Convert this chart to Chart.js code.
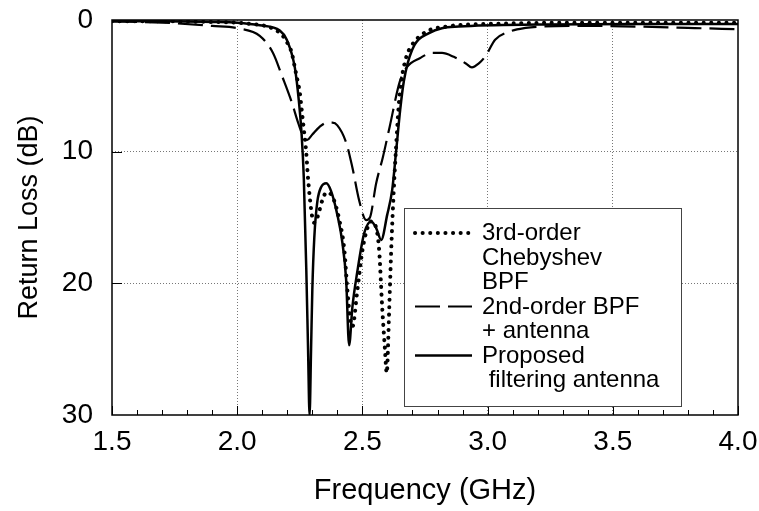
<!DOCTYPE html>
<html>
<head>
<meta charset="utf-8">
<script src="https://cdn.jsdelivr.net/npm/chart.js@4.4.0/dist/chart.umd.min.js"></script>
<style>
html, body { margin: 0; padding: 0; background: #fff; }
</style>
</head>
<body>
<canvas id="chart0" width="759" height="511"></canvas>
<script>
// 3rd-order Chebyshev BPF (dotted)
var freqBpf3 = [1.5, 1.7, 1.9, 2.0, 2.05, 2.1, 2.142, 2.182, 2.202, 2.218, 2.23, 2.242, 2.25, 2.258, 2.266, 2.275, 2.282, 2.29, 2.30, 2.308, 2.32, 2.34, 2.356, 2.38, 2.408, 2.428, 2.44, 2.452, 2.46, 2.48, 2.5, 2.52, 2.535, 2.555, 2.567, 2.579, 2.59, 2.597, 2.607, 2.615, 2.625, 2.635, 2.645, 2.655, 2.674, 2.698, 2.754, 2.834, 3.0, 3.5, 4.0];
var rlBpf3   = [0.1, 0.1, 0.15, 0.2, 0.3, 0.4, 0.65, 1.2, 1.8, 2.5, 3.6, 4.7, 5.5, 6.9, 8.3, 9.9, 11.8, 13.5, 15.0, 15.4, 15.0, 13.7, 13.1, 13.4, 15.2, 17.5, 20.5, 22.8, 23.3, 20.5, 17.5, 15.8, 15.3, 15.8, 17.5, 21.8, 25.0, 26.8, 22.0, 17.5, 13.0, 9.5, 6.5, 4.7, 2.9, 1.9, 0.9, 0.5, 0.3, 0.2, 0.2];

// 2nd-order BPF + antenna (dashed)
var freqBpf2 = [1.5, 1.7, 1.9, 2.01, 2.09, 2.143, 2.18, 2.217, 2.245, 2.265, 2.28, 2.3, 2.33, 2.358, 2.38, 2.4, 2.435, 2.46, 2.487, 2.515, 2.53, 2.555, 2.582, 2.609, 2.649, 2.677, 2.729, 2.78, 2.818, 2.865, 2.913, 2.937, 2.965, 2.993, 3.03, 3.084, 3.152, 3.216, 3.4, 3.6, 3.8, 4.0];
var rlBpf2   = [0.1, 0.2, 0.45, 0.65, 1.2, 2.5, 4.3, 6.2, 7.9, 8.9, 9.1, 8.7, 8.1, 7.8, 7.8, 8.0, 9.3, 11.2, 13.7, 15.2, 15.0, 12.4, 10.4, 8.1, 4.7, 3.6, 2.9, 2.5, 2.5, 2.8, 3.3, 3.6, 3.3, 2.7, 1.5, 0.9, 0.6, 0.5, 0.45, 0.5, 0.6, 0.7];

// Proposed filtering antenna (solid)
var freqAnt = [1.5, 1.7, 1.9, 2.0, 2.09, 2.17, 2.198, 2.23, 2.246, 2.257, 2.266, 2.276, 2.283, 2.289, 2.295, 2.30, 2.308, 2.32, 2.335, 2.356, 2.375, 2.40, 2.42, 2.435, 2.447, 2.46, 2.479, 2.507, 2.535, 2.555, 2.575, 2.599, 2.619, 2.635, 2.651, 2.666, 2.698, 2.766, 2.885, 3.2, 3.6, 4.0];
var rlAnt   = [0.1, 0.1, 0.15, 0.2, 0.4, 0.8, 1.5, 3.6, 6.1, 8.6, 12.0, 19.0, 25.0, 30.0, 25.0, 20.5, 16.5, 13.8, 12.7, 12.4, 13.0, 14.8, 16.9, 19.7, 24.7, 21.8, 19.2, 16.2, 15.3, 15.8, 16.7, 14.8, 12.9, 9.9, 6.8, 4.6, 2.3, 1.0, 0.5, 0.35, 0.3, 0.3];

var xTicks = [1.5, 2.0, 2.5, 3.0, 3.5, 4.0];
var yTicks = [0, 10, 20, 30];
var legendLines = [
    ['3rd-order', 'Chebyshev', 'BPF'],
    ['2nd-order BPF', '+ antenna'],
    ['Proposed', ' filtering antenna']
];

var FONT = "'Liberation Sans', Arial, sans-serif";

function pts(xs, ys) { return xs.map(function (x, i) { return { x: x, y: ys[i] }; }); }

// box, inward ticks and legend
var frame = {
    id: 'frame',
    afterDatasetsDraw: function (chart) {
        var ctx = chart.ctx, a = chart.chartArea, xs = chart.scales.x, ys = chart.scales.y;
        ctx.save();
        ctx.strokeStyle = '#000'; ctx.lineWidth = 1.5; ctx.setLineDash([]);
        ctx.strokeRect(a.left, a.top, a.right - a.left, a.bottom - a.top);
        ctx.lineWidth = 1;
        for (var i = 0; i <= 25; i++) {
            var v = 1.5 + i * 0.1, px = Math.round(xs.getPixelForValue(v)) + 0.5;
            var len = (i % 5 == 0) ? 9 : 5;
            ctx.beginPath(); ctx.moveTo(px, a.bottom); ctx.lineTo(px, a.bottom - len); ctx.stroke();
        }
        [10, 20].forEach(function (v) {
            var py = Math.round(ys.getPixelForValue(v)) + 0.5;
            ctx.beginPath(); ctx.moveTo(a.left, py); ctx.lineTo(a.left + 10, py); ctx.stroke();
        });

        // legend
        var lx = 404, ly = 208, lw = 277, lh = 198;
        ctx.fillStyle = '#fff'; ctx.fillRect(lx, ly, lw, lh);
        ctx.strokeStyle = '#444'; ctx.lineWidth = 1;
        ctx.strokeRect(lx + 0.5, ly + 0.5, lw, lh);
        ctx.font = '24px ' + FONT; ctx.fillStyle = '#000'; ctx.textBaseline = 'alphabetic';
        var row = 0;
        legendLines.forEach(function (lines, k) {
            var ds = chart.data.datasets[k];
            var base = 240 + row * 24.5;
            ctx.strokeStyle = '#000'; ctx.lineWidth = ds.borderWidth;
            ctx.lineCap = ds.borderCapStyle || 'butt';
            ctx.setLineDash(ds.borderDash || []);
            ctx.beginPath(); ctx.moveTo(415, base - 7); ctx.lineTo(472, base - 7); ctx.stroke();
            lines.forEach(function (t) {
                ctx.fillText(t, 482, 240 + row * 24.5);
                row++;
            });
        });
        ctx.restore();
    }
};

var config = {
    type: 'line',
    data: {
        datasets: [{
            label: '3rd-order Chebyshev BPF',
            data: pts(freqBpf3, rlBpf3),
            borderColor: '#000', borderWidth: 4, borderDash: [0.1, 7.5], borderCapStyle: 'round',
            pointRadius: 0, cubicInterpolationMode: 'monotone'
        }, {
            label: '2nd-order BPF + antenna',
            data: pts(freqBpf2, rlBpf2),
            borderColor: '#000', borderWidth: 2.2, borderDash: [25, 8],
            pointRadius: 0, cubicInterpolationMode: 'monotone'
        }, {
            label: 'Proposed filtering antenna',
            data: pts(freqAnt, rlAnt),
            borderColor: '#000', borderWidth: 2.5,
            pointRadius: 0, cubicInterpolationMode: 'monotone'
        }]
    },
    options: {
        responsive: false, animation: false, devicePixelRatio: 1,
        layout: { padding: { top: 20, right: 21, left: 0, bottom: 0 } },
        plugins: { legend: { display: false }, tooltip: { enabled: false } },
        scales: {
            x: {
                type: 'linear', min: 1.5, max: 4.0,
                afterFit: function (s) { s.height = 96; s.paddingLeft = 0; s.paddingRight = 0; },
                afterBuildTicks: function (s) { s.ticks = xTicks.map(function (v) { return { value: v }; }); },
                ticks: {
                    autoSkip: false, maxRotation: 0, padding: 10, color: '#000',
                    font: { family: FONT, size: 28 },
                    callback: function (v) { return v.toFixed(1); }
                },
                grid: {
                    drawTicks: false,
                    color: function (c) { return (c.tick && c.tick.value > 1.5 && c.tick.value < 4.0) ? '#777' : 'rgba(0,0,0,0)'; }
                },
                border: { display: false, dash: [1, 2] },
                title: { display: true, text: 'Frequency (GHz)', color: '#000', font: { family: FONT, size: 29 }, padding: { top: 0, bottom: 3 } }
            },
            y: {
                type: 'linear', min: 0, max: 30, reverse: true,
                afterFit: function (s) { s.width = 112; s.paddingTop = 0; s.paddingBottom = 0; },
                afterBuildTicks: function (s) { s.ticks = yTicks.map(function (v) { return { value: v }; }); },
                ticks: { padding: 19, color: '#000', font: { family: FONT, size: 28 } },
                grid: {
                    drawTicks: false,
                    color: function (c) { return (c.tick && c.tick.value > 0 && c.tick.value < 30) ? '#777' : 'rgba(0,0,0,0)'; }
                },
                border: { display: false, dash: [1, 2] },
                title: { display: true, text: 'Return Loss (dB)', color: '#000', font: { family: FONT, size: 27 }, padding: { top: 13, bottom: 0 } }
            }
        }
    },
    plugins: [frame]
};

var chart = new Chart(document.getElementById('chart0'), config);
</script>
</body>
</html>
